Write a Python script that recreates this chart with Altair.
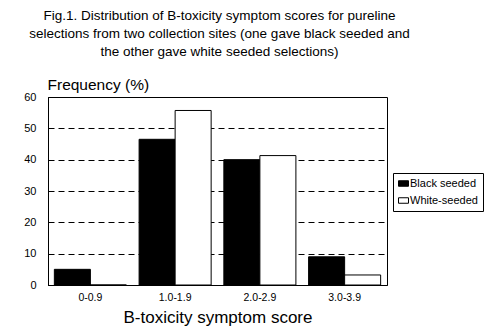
import altair as alt
import pandas as pd

# Symptom score classes and the share of selections in each (%)
scores = ["0-0.9", "1.0-1.9", "2.0-2.9", "3.0-3.9"]
black_seeded = [5.0, 46.5, 40.0, 9.0]
white_seeded = [0.0, 55.7, 41.3, 3.2]
series = ["Black seeded", "White-seeded"]

rows = []
for s, b, w in zip(scores, black_seeded, white_seeded):
    rows.append({"score": s, "series": series[0], "pct": b})
    rows.append({"score": s, "series": series[1], "pct": w})
df = pd.DataFrame(rows)

FONT = "Liberation Sans"

bars = alt.Chart(df).mark_bar(stroke="black", strokeWidth=1).encode(
    x=alt.X(
        "score:N",
        sort=scores,
        scale=alt.Scale(paddingInner=0.15, paddingOuter=0.075),
        axis=alt.Axis(
            title="B-toxicity symptom score",
            labelAngle=0,
            labelFontSize=10.5,
            labelColor="black",
            labelPadding=7,
            ticks=False,
            domainColor="black",
            titleFontSize=17,
            titleFontWeight="normal",
            titleColor="black",
            titlePadding=7,
        ),
    ),
    xOffset=alt.XOffset("series:N", sort=series),
    y=alt.Y(
        "pct:Q",
        scale=alt.Scale(domain=[0, 60]),
        axis=alt.Axis(
            values=[0, 10, 20, 30, 40, 50, 60],
            title="Frequency (%)",
            titleAngle=0,
            titleAlign="left",
            titleBaseline="bottom",
            titleX=-1,
            titleY=-5,
            titleFontSize=15.5,
            titleFontWeight="normal",
            titleColor="black",
            labelFontSize=11,
            labelColor="black",
            labelPadding=12,
            ticks=False,
            domainColor="black",
            grid=True,
            gridColor="black",
            gridDash=[6, 4],
            gridOpacity=1,
        ),
    ),
    color=alt.Color(
        "series:N",
        sort=series,
        scale=alt.Scale(domain=series, range=["black", "white"]),
        legend=alt.Legend(
            title=None,
            orient="none",
            legendX=345,
            legendY=76,
            strokeColor="black",
            fillColor="white",
            padding=5,
            symbolType="M-1,-0.55H1V0.55H-1Z",
            symbolSize=100,
            symbolStrokeColor="black",
            symbolStrokeWidth=1,
            symbolOpacity=1,
            labelFontSize=11,
            labelColor="black",
            labelOffset=1,
            rowPadding=5,
        ),
    ),
)

chart = bars.properties(
    width=339,
    height=188,
    title=alt.TitleParams(
        text=[
            "Fig.1. Distribution of B-toxicity symptom scores for pureline",
            "selections from two collection sites (one gave black seeded and",
            "the other gave white seeded selections)",
        ],
        fontSize=13.5,
        fontWeight="normal",
        color="black",
        anchor="middle",
        lineHeight=18,
        offset=19,
        dx=2,
    ),
    padding={"left": 48, "top": 97, "right": 105, "bottom": 49},
    autosize=alt.AutoSizeParams(type="none"),
).configure(font=FONT).configure_view(stroke="black", strokeWidth=1)

chart.save("out.html", embed_options={"renderer": "svg", "actions": False})
